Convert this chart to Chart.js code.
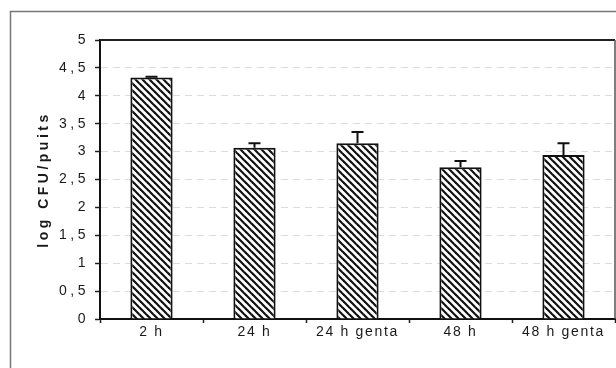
<!DOCTYPE html>
<html>
<head>
<meta charset="utf-8">
<script src="https://cdn.jsdelivr.net/npm/chart.js@4/dist/chart.umd.min.js"></script>
<style>
  html, body { margin: 0; padding: 0; background: #fff; }
  #wrap { width: 616px; height: 368px; }
</style>
</head>
<body>
<div id="wrap"><canvas id="c" width="616" height="368"></canvas></div>
<script>
// Bacterial counts per well, log scale, with upward error bars
const categories = ['2 h', '24 h', '24 h genta', '48 h', '48 h genta'];
const logCfu = [4.33, 3.07, 3.15, 2.72, 2.94];
const errUp = [0.01, 0.08, 0.20, 0.11, 0.21];
const yTickLabels = ['0', '0,5', '1', '1,5', '2', '2,5', '3', '3,5', '4', '4,5', '5'];
const yTitle = 'log CFU/puits';

const FONT = "'Liberation Sans', Arial, sans-serif";
const INK = '#1a1a1a';

// Diagonal hatch fill for the bars
function hatchPattern() {
  const s = 7;
  const p = document.createElement('canvas');
  p.width = s; p.height = s;
  const g = p.getContext('2d');
  g.fillStyle = '#fff';
  g.fillRect(0, 0, s, s);
  g.strokeStyle = '#111';
  g.lineWidth = 2.2;
  for (const x0 of [-s, 0, s]) {
    g.beginPath();
    g.moveTo(x0 - 1, -1);
    g.lineTo(x0 + s + 1, s + 1);
    g.stroke();
  }
  return g.createPattern(p, 'repeat');
}

// Scales whose text is drawn with wider letter spacing
class SpacedCategoryScale extends Chart.CategoryScale {
  static id = 'spacedCategory';
  static defaults = Chart.CategoryScale.defaults;
  drawLabels(area) {
    const c = this.ctx; c.save(); c.letterSpacing = '1.7px';
    super.drawLabels(area); c.restore();
  }
}
class SpacedLinearScale extends Chart.LinearScale {
  static id = 'spacedLinear';
  static defaults = Chart.LinearScale.defaults;
  drawLabels(area) {
    const c = this.ctx; c.save(); c.letterSpacing = '3.5px';
    super.drawLabels(area); c.restore();
  }
  drawTitle() {
    const c = this.ctx; c.save(); c.letterSpacing = '3.5px';
    super.drawTitle(); c.restore();
  }
}
Chart.register(SpacedCategoryScale, SpacedLinearScale);

const framePlugin = {
  id: 'frame',
  beforeDraw(chart) {
    const { ctx } = chart;
    ctx.save();
    ctx.fillStyle = '#fff';
    ctx.fillRect(0, 0, chart.width, chart.height);
    ctx.strokeStyle = '#777';
    ctx.lineWidth = 1.5;
    ctx.strokeRect(10.5, 11.5, chart.width + 20, chart.height + 20);
    ctx.restore();
  },
  afterDraw(chart) {
    const { ctx, chartArea: a } = chart;
    ctx.save();
    ctx.strokeStyle = '#222';
    ctx.lineWidth = 2;
    ctx.beginPath();
    ctx.moveTo(a.left, a.top);
    ctx.lineTo(a.right, a.top);
    ctx.stroke();
    ctx.strokeStyle = '#555';
    ctx.lineWidth = 1.5;
    ctx.beginPath();
    ctx.moveTo(a.right, a.top);
    ctx.lineTo(a.right, a.bottom);
    ctx.stroke();
    ctx.restore();
  }
};

const errorBarPlugin = {
  id: 'errorBars',
  afterDatasetsDraw(chart) {
    const { ctx } = chart;
    const y = chart.scales.y;
    const meta = chart.getDatasetMeta(0);
    ctx.save();
    ctx.strokeStyle = '#111';
    ctx.lineWidth = 2;
    meta.data.forEach((bar, i) => {
      const y0 = y.getPixelForValue(logCfu[i]);
      const y1 = y.getPixelForValue(logCfu[i] + errUp[i]);
      ctx.beginPath();
      ctx.moveTo(bar.x, y0);
      ctx.lineTo(bar.x, y1);
      ctx.moveTo(bar.x - 6, y1);
      ctx.lineTo(bar.x + 6, y1);
      ctx.stroke();
    });
    ctx.restore();
  }
};

Chart.defaults.font.family = FONT;
Chart.defaults.font.size = 14;
Chart.defaults.color = INK;

new Chart(document.getElementById('c'), {
  type: 'bar',
  data: {
    labels: categories,
    datasets: [{
      data: logCfu,
      backgroundColor: hatchPattern(),
      borderColor: '#111',
      borderWidth: 2,
      categoryPercentage: 1,
      barPercentage: 0.41
    }]
  },
  options: {
    responsive: false,
    devicePixelRatio: 1,
    animation: false,
    layout: { padding: { left: 10, top: 40, right: 1, bottom: 0 } },
    plugins: { legend: { display: false }, tooltip: { enabled: false } },
    scales: {
      x: {
        type: 'spacedCategory',
        offset: true,
        grid: {
          offset: true,
          drawOnChartArea: false,
          drawTicks: true,
          tickLength: 4,
          tickColor: '#222',
          tickWidth: 1.5
        },
        border: { color: '#111', width: 2 },
        ticks: { padding: 1, autoSkip: false, maxRotation: 0, color: INK },
        afterFit(s) { s.height = 49; }
      },
      y: {
        type: 'spacedLinear',
        min: 0,
        max: 5,
        ticks: {
          stepSize: 0.5,
          padding: 6,
          color: INK,
          callback: (v, i) => yTickLabels[i]
        },
        grid: {
          color: '#dcdcdc',
          lineWidth: 1,
          tickColor: '#222',
          tickLength: 5,
          tickWidth: 1.5
        },
        border: { color: '#111', width: 2, dash: [7, 5] },
        title: {
          display: true,
          text: yTitle,
          font: { size: 14, weight: 'bold' },
          color: INK,
          padding: { top: 26, bottom: 0 }
        },
        afterFit(s) { s.width = 90; }
      }
    }
  },
  plugins: [framePlugin, errorBarPlugin]
});
</script>
</body>
</html>
